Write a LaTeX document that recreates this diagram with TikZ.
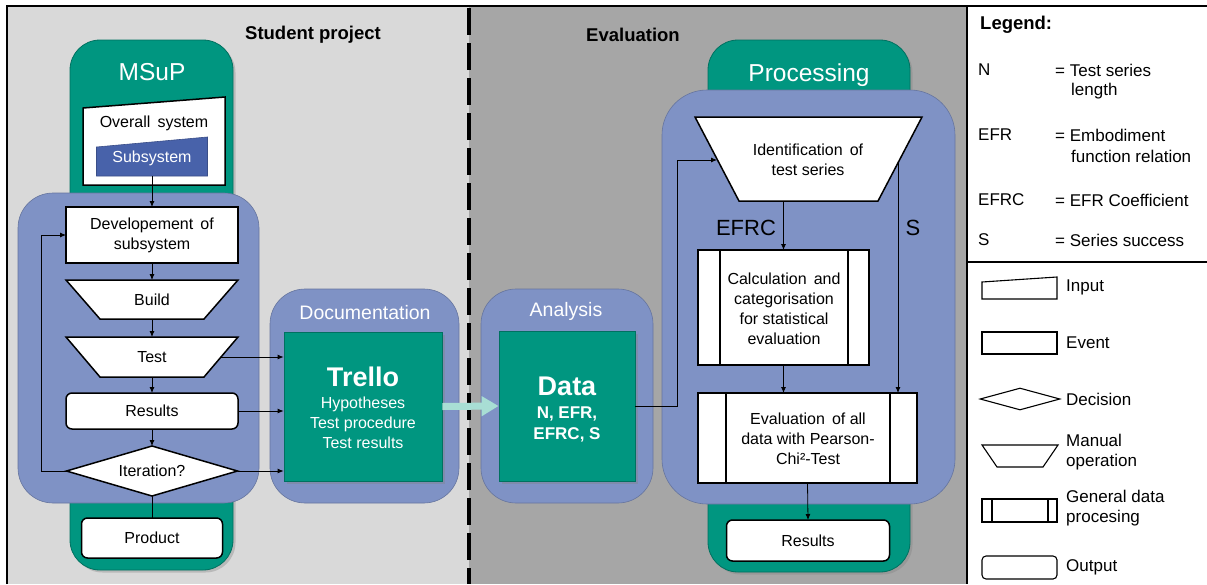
\documentclass[tikz,border=0pt]{standalone}
\usepackage{fontspec}
\setmainfont{Liberation Sans}
\usetikzlibrary{arrows.meta,shadows,calc,shapes.geometric}
\definecolor{lgray}{RGB}{217,217,217}
\definecolor{dgray}{RGB}{166,166,166}
\definecolor{tealg}{RGB}{0,150,128}
\definecolor{bluebox}{RGB}{127,146,197}
\definecolor{subblue}{RGB}{72,98,170}
\definecolor{aqua}{RGB}{168,222,212}
\newcommand\ftxt{\fontsize{16}{20}\selectfont}
\newcommand\flg{\fontsize{17}{20}\selectfont}
\newcommand\manualop[2]{\draw[shp] (#1.north west) -- (#1.north east) -- ([xshift=-#2]#1.south east) -- ([xshift=#2]#1.south west) -- cycle;}
\newcommand\inputsh[3]{\draw[#3] (#1.south west) -- (#1.south east) -- (#1.north east) -- ([yshift=-#2]#1.north west) -- cycle;}
\newcommand\gdpsh[3]{\draw[shp] (#1.north west) rectangle (#1.south east);
  \draw[line width=1.5pt] ([xshift=#2]#1.north west) -- ([xshift=#2]#1.south west);
  \draw[line width=1.5pt] ([xshift=-#3]#1.north east) -- ([xshift=-#3]#1.south east);}
\begin{document}
\begin{tikzpicture}[x=1pt,y=-1pt,
  conn/.style={line width=0.8pt, -{Latex[length=6pt,width=5pt]}},
  plainline/.style={line width=0.8pt},
  shp/.style={draw=black, line width=1.5pt, fill=white},
  lshp/.style={draw=black, line width=1.1pt, fill=white},
  ghost/.style={inner sep=0pt, outer sep=0pt, draw=none},
  evt/.style={shp, inner sep=0pt, outer sep=0pt, align=center, font=\ftxt},
  txt/.style={align=center, font=\ftxt, inner sep=0pt},
  grn/.style={draw=tealg!75!black, line width=0.8pt, fill=tealg, inner sep=0pt,
     drop shadow={opacity=0.35, shadow xshift=2.5pt, shadow yshift=-2.5pt}},
  grp/.style={draw=bluebox!80!black, line width=0.6pt, fill=bluebox, inner sep=0pt},
  wtitle/.style={text=white, inner sep=0pt},
  lgtxt/.style={anchor=west, font=\flg, inner sep=0pt}
]
\useasboundingbox (0,0) rectangle (1207,584);
% backgrounds
\fill[white] (0,0) rectangle (1207,584);
\fill[lgray] (7,6) rectangle (469,584);
\fill[dgray] (469,6) rectangle (967,584);
\draw[line width=2pt] (7,584) -- (7,6) -- (1207,6);
\draw[line width=2pt] (967,6) -- (967,584);
\draw[line width=1.5pt] (967,262) -- (1207,262);
\draw[line width=3.5pt, dash pattern=on 27pt off 8pt] (469,8) -- (469,584);

% titles
\node[font=\fontsize{18.5}{22}\selectfont\bfseries, inner sep=0pt] (tstud) at (313,35) {Student project};
\node[font=\fontsize{18.5}{22}\selectfont\bfseries, inner sep=0pt] (teval) at (633,35) {Evaluation};

% ---------- MSuP column
\node[grn, rounded corners=30pt, minimum width=163pt, minimum height=530pt] (msup) at (151.5,305) {};
\node[wtitle, font=\fontsize{24.5}{28}\selectfont] (msupt) at (152,72) {MSuP};
\node[ghost, minimum width=142pt, minimum height=88pt] (overall) at (154,141) {};
\inputsh{overall}{11pt}{shp}
\node[txt] (overallt) at (154,123) {Overall\, system};
\node[ghost, minimum width=111pt, minimum height=39pt] (subsys) at (152,156.5) {};
\inputsh{subsys}{10pt}{fill=subblue, draw=subblue!80!black, line width=0.6pt}
\node[txt, text=white] (subsyst) at (152,158) {Subsystem};

\node[grp, rounded corners=35pt, minimum width=241pt, minimum height=310pt] (leftgrp) at (138.5,348) {};

\node[evt, minimum width=172pt, minimum height=56pt] (dev) at (152,235) {Developement\, of\\subsystem};
\node[ghost, minimum width=172pt, minimum height=39pt] (build) at (152,299.5) {};
\manualop{build}{34pt}
\node[txt] (buildt) at (152,300) {Build};
\node[ghost, minimum width=172pt, minimum height=40pt] (test) at (152,357) {};
\manualop{test}{34pt}
\node[txt] (testt) at (152,357) {Test};
\node[evt, rounded corners=6pt, minimum width=172pt, minimum height=36pt] (res1) at (152,411) {Results};
\node[evt, diamond, aspect=3.4, minimum width=171pt, minimum height=50pt] (iter) at (152,471) {Iteration?};
\node[evt, rounded corners=6pt, minimum width=141pt, minimum height=40pt] (product) at (152,538) {Product};

% ---------- Documentation
\node[grp, rounded corners=35pt, minimum width=189pt, minimum height=214pt] (docgrp) at (364.5,396) {};
\node[wtitle, font=\fontsize{19.5}{22}\selectfont] (doct) at (365,313) {Documentation};
\node[grn, minimum width=158pt, minimum height=149pt] (trello) at (363,406.5) {};
\node[wtitle, font=\fontsize{27}{30}\selectfont\bfseries] (trellot) at (363,377) {Trello};
\node[wtitle, font=\ftxt, align=center] (trellol) at (363,423) {Hypotheses\\Test procedure\\Test results};

% ---------- Analysis
\node[grp, rounded corners=35pt, minimum width=172pt, minimum height=214pt] (angrp) at (567,396) {};
\node[wtitle, font=\fontsize{19.5}{22}\selectfont] (ant) at (566,311) {Analysis};
\node[grn, minimum width=136pt, minimum height=150pt] (data) at (567,406) {};
\node[wtitle, font=\fontsize{27}{30}\selectfont\bfseries] (datat) at (567,386) {Data};
\node[wtitle, font=\fontsize{17}{21}\selectfont\bfseries, align=center] (datal) at (567,424) {N, EFR,\\EFRC, S};

% ---------- Processing
\node[grn, rounded corners=30pt, minimum width=202pt, minimum height=532pt] (proc) at (809,306) {};
\node[wtitle, font=\fontsize{24.5}{28}\selectfont] (proct) at (809,75) {Processing};
\node[grp, rounded corners=45pt, minimum width=293pt, minimum height=414pt] (procgrp) at (808.5,297) {};
\node[ghost, minimum width=227pt, minimum height=84pt] (ident) at (808.5,159) {};
\manualop{ident}{44pt}
\node[txt] (identt) at (808,160) {Identification\, of\\test series};
\node[ghost, minimum width=171pt, minimum height=115pt] (calc) at (783.5,307.5) {};
\gdpsh{calc}{22pt}{21pt}
\node[txt] (calct) at (784,309) {Calculation\, and\\categorisation\\for statistical\\evaluation};
\node[ghost, minimum width=219pt, minimum height=90pt] (evalb) at (807.5,438) {};
\gdpsh{evalb}{28pt}{27pt}
\node[txt] (evalt) at (808,439) {Evaluation\, of all\\data with Pearson-\\Chi²-Test};
\node[evt, rounded corners=6pt, minimum width=163pt, minimum height=41pt] (res2) at (808,540.5) {Results};
\node[font=\fontsize{22}{24}\selectfont, inner sep=0pt] (efrc) at (746,228) {EFRC};
\node[font=\fontsize{22}{24}\selectfont, inner sep=0pt] (slab) at (913,228) {S};

% ---------- connectors
\draw[conn] (subsys.south) -- (dev.north);
\draw[conn] (dev.south) -- (build.north);
\draw[conn] (build.south) -- (test.north);
\draw[conn] (test.south) -- (res1.north);
\draw[conn] (res1.south) -- (iter.north);
\draw[plainline] (iter.south) -- (product.north);
\draw[conn] (iter.west) -- ++(-25,0) |- (dev.west);
\draw[conn] ([xshift=-17pt]test.east) -- (test.east -| trello.west);
\draw[conn] (res1.east) -- (res1.east -| trello.west);
\draw[conn] (iter.east) -- (iter.east -| trello.west);
\draw[aqua, line width=7pt, -{Triangle[length=17pt,width=19pt]}] (trello.east) -- (data.west);
\coordinate (identL) at ($(ident.north west)+(22,43)$);
\coordinate (identR) at ($(ident.north east)+(-24,45)$);
\draw[conn] (data.east) -- ++(42,0) |- (identL);
\draw[conn] (ident.south -| calc.north) -- (calc.north);
\draw[conn] (calc.south) -- (calc.south |- evalb.north);
\draw[conn] (identR) -- (identR |- evalb.north);
\draw[conn] (evalb.south) -- (res2.north);

% ---------- legend
\node[anchor=west, font=\fontsize{18.5}{22}\selectfont\bfseries, inner sep=0pt] (lgtitle) at (980,25) {Legend:};
\node[lgtxt] (lgN) at (978,70) {N};
\node[lgtxt] (lgNd) at (1055,70) {= Test series};
\node[lgtxt] (lgNd2) at (1071,91) {length};
\node[lgtxt] (lgE) at (978,135) {EFR};
\node[lgtxt] (lgEd) at (1055,135) {= Embodiment};
\node[lgtxt] (lgEd2) at (1071,156) {function relation};
\node[lgtxt] (lgC) at (978,200) {EFRC};
\node[lgtxt] (lgCd) at (1055,200) {= EFR Coefficient};
\node[lgtxt] (lgS) at (978,240) {S};
\node[lgtxt] (lgSd) at (1055,240) {= Series success};

\node[ghost, minimum width=75pt, minimum height=22pt] (lin) at (1019.5,288) {};
\inputsh{lin}{5pt}{lshp}
\node[lgtxt] (lint) at (1066,287) {Input};
\node[lshp, minimum width=75pt, minimum height=22pt, inner sep=0pt] (lev) at (1019.5,343) {};
\node[lgtxt] (levt) at (1066,343) {Event};
\node[lshp, diamond, aspect=3.6, minimum width=80pt, minimum height=22pt, inner sep=0pt] (ldec) at (1020,399) {};
\node[lgtxt] (ldect) at (1066,399) {Decision};
\node[ghost, minimum width=76pt, minimum height=22pt] (lman) at (1020,456) {};
\draw[lshp] (lman.north west) -- (lman.north east) -- ([xshift=-15pt]lman.south east) -- ([xshift=15pt]lman.south west) -- cycle;
\node[lgtxt, align=left] (lmant) at (1066,452.5) {Manual\\operation};
\node[ghost, minimum width=75pt, minimum height=23pt] (lgdp) at (1019.5,510.5) {};
\draw[lshp] (lgdp.north west) rectangle (lgdp.south east);
\draw[line width=1.1pt] ([xshift=10pt]lgdp.north west) -- ([xshift=10pt]lgdp.south west);
\draw[line width=1.1pt] ([xshift=-9pt]lgdp.north east) -- ([xshift=-9pt]lgdp.south east);
\node[lgtxt, align=left] (lgdpt) at (1066,508) {General data\\procesing};
\node[lshp, rounded corners=4pt, minimum width=75pt, minimum height=23pt, inner sep=0pt] (lout) at (1019.5,567.5) {};
\node[lgtxt] (loutt) at (1066,567) {Output};
\end{tikzpicture}
\end{document}
